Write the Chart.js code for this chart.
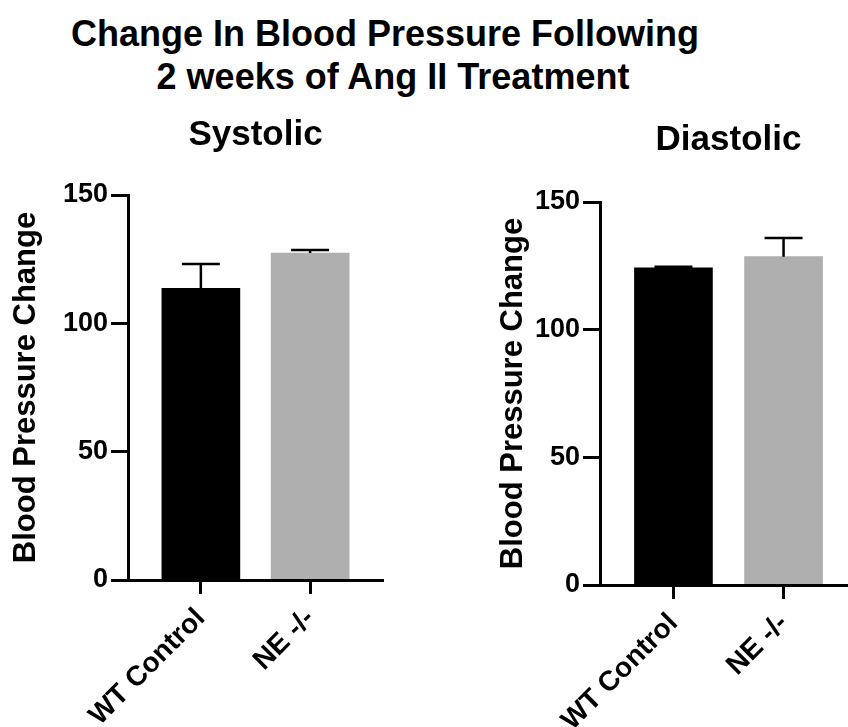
<!DOCTYPE html>
<html>
<head>
<meta charset="utf-8">
<script src="https://cdn.jsdelivr.net/npm/chart.js@4.4.1/dist/chart.umd.min.js"></script>
<style>
  html, body { margin: 0; padding: 0; background: #fff; overflow: hidden; width: 848px; height: 727px; }
  .title {
    position: absolute; left: 0; width: 800px; white-space: nowrap;
    text-align: center; color: #000;
    font: bold 36px "Liberation Sans", Arial, sans-serif; line-height: 42px;
  }
  canvas { position: absolute; top: 0; }
</style>
</head>
<body>
<div class="title" style="top:13px; left:-15px">Change In Blood Pressure Following</div>
<div class="title" style="top:56px; left:-7px">2 weeks of Ang II Treatment</div>
<canvas id="sys" width="424" height="727" style="left:0px"></canvas>
<canvas id="dia" width="470" height="727" style="left:424px"></canvas>
<script>
// data (mean + upper error)
const groups = ["WT Control", "NE -/-"];
const systolicMean = [113.6, 127.4];
const systolicErr = [9.5, 1.2];
const diastolicMean = [124.2, 128.6];
const diastolicErr = [0.4, 7.3];
const yTicks = [0, 50, 100, 150];

const barColors = ["#000000", "#afafaf"];
const FONT = "'Liberation Sans', Arial, Helvetica, sans-serif";

// draws the upward error bar + cap on each bar
const errorBars = {
    id: "errorBars",
    afterDatasetsDraw(chart, args, opts) {
        const ctx = chart.ctx;
        const x = chart.scales.x, y = chart.scales.y;
        const pts = chart.data.datasets[0].data;
        ctx.save();
        ctx.strokeStyle = "#000";
        ctx.lineWidth = 2.5;
        pts.forEach((p, i) => {
            const px = x.getPixelForValue(p.x);
            const base = y.getPixelForValue(p.y);
            const top = y.getPixelForValue(p.y + opts.errors[i]);
            ctx.beginPath();
            ctx.moveTo(px, base);
            ctx.lineTo(px, top);
            ctx.moveTo(px - opts.cap / 2, top);
            ctx.lineTo(px + opts.cap / 2, top);
            ctx.stroke();
        });
        ctx.restore();
    }
};

function makeChart(id, title, means, errs, lay) {
    const ctx = document.getElementById(id).getContext("2d");
    return new Chart(ctx, {
        type: "bar",
        data: {
            datasets: [{
                data: means.map((m, i) => ({ x: i, y: m })),
                backgroundColor: barColors,
                borderWidth: 0,
                barThickness: 78,
            }]
        },
        options: {
            responsive: false,
            animation: false,
            layout: { padding: lay.padding },
            plugins: {
                legend: { display: false },
                tooltip: { enabled: false },
                title: {
                    display: true,
                    text: title,
                    fullSize: false,
                    color: "#000",
                    font: { family: FONT, size: 35, weight: "bold" },
                    padding: { top: 0, bottom: lay.titleGap },
                },
                errorBars: { errors: errs, cap: 38 },
            },
            scales: {
                x: {
                    type: "linear",
                    min: -0.667,
                    max: 1.667,
                    offset: false,
                    afterBuildTicks: s => { s.ticks = groups.map((g, i) => ({ value: i })); },
                    // tall box so the rotated labels are not clipped
                    afterFit: s => { s.height = lay.xHeight; },
                    grid: { offset: false, drawOnChartArea: false, tickLength: 14, tickWidth: 3, tickColor: "#000" },
                    border: { color: "#000", width: 3, z: 1 },
                    ticks: {
                        callback: v => groups[v],
                        autoSkip: false,
                        minRotation: 45,
                        maxRotation: 45,
                        padding: 8,
                        color: "#000",
                        font: { family: FONT, size: 28, weight: "bold" },
                    },
                },
                y: {
                    min: 0,
                    max: 150,
                    afterBuildTicks: s => { s.ticks = yTicks.map(v => ({ value: v })); },
                    afterFit: s => { s.width = lay.yWidth; },
                    grid: { drawOnChartArea: false, tickLength: 17, tickWidth: 3, tickColor: "#000" },
                    border: { color: "#000", width: 3, z: 1 },
                    ticks: {
                        padding: 3,
                        color: "#000",
                        font: { family: FONT, size: 27, weight: "bold" },
                    },
                    title: {
                        display: true,
                        text: "Blood Pressure Change",
                        color: "#000",
                        font: { family: FONT, size: 31, weight: "bold" },
                        padding: { top: 8, bottom: 0 },
                    },
                },
            },
        },
        plugins: [errorBars],
    });
}

makeChart("sys", "Systolic", systolicMean, systolicErr, {
    padding: { top: 114, left: 0, right: 41, bottom: 0 },
    titleGap: 39,
    yWidth: 128,
    xHeight: 147,
});

makeChart("dia", "Diastolic", diastolicMean, diastolicErr, {
    padding: { top: 119, left: 63, right: 37, bottom: 0 },
    titleGap: 41,
    yWidth: 113,
    xHeight: 142,
});
</script>
</body>
</html>
